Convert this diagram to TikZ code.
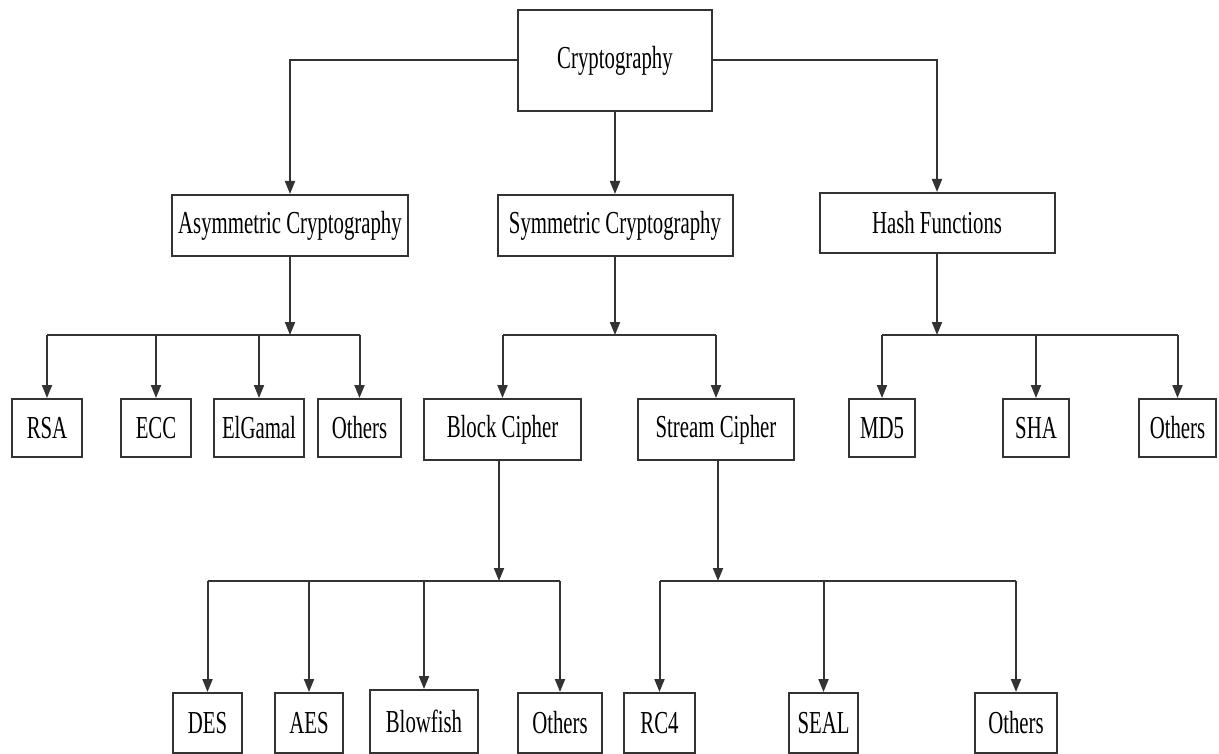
\documentclass[tikz,border=0pt]{standalone}
\usepackage{fontspec}
\setmainfont[FakeStretch=0.65]{Liberation Serif}
\usetikzlibrary{arrows.meta, calc, positioning}
\definecolor{linegray}{HTML}{333333}
\tikzset{
    module/.style={
           rectangle,
           draw=linegray, line width=2pt,
           minimum height=61pt,
           inner sep=2pt,
           text centered,
           font=\fontsize{32}{38}\selectfont,
           },
    leaf/.style={
           module,
           minimum height=58pt,
           },
}

\begin{document}
\begin{tikzpicture}[->, >={Triangle[length=13pt,width=10pt]},
                    x=1pt, y=-1pt, line width=2pt, draw=linegray]

 \useasboundingbox (0,0) rectangle (1219,754);

 % top
 \node[module,
  minimum width=194pt,
  minimum height=101pt] (ROOT) at (615,60.5)
 {%
  Cryptography
 };

 % second level
 \node[module,
  minimum width=236pt] (ASYM) at (290,225.5)
 {%
  Asymmetric Cryptography
 };

 \node[module,
  minimum width=235pt] (SYM) at (615,225.5)
 {%
  Symmetric Cryptography
 };

 \node[module,
  minimum width=235pt,
  minimum height=60pt] (HASH) at (937,223)
 {%
  Hash Functions
 };

 % third level
 \node[leaf, minimum width=70pt] (RSA) at (47,428)
 {%
  RSA
 };

 \node[leaf, minimum width=70pt] (ECC) at (156,428)
 {%
  ECC
 };

 \node[leaf, minimum width=90pt] (ELGAMAL) at (259,428)
 {%
  ElGamal
 };

 \node[leaf, minimum width=83pt] (OTHERS_A) at (359.5,428)
 {%
  Others
 };

 \node[module, minimum width=157pt] (BLOCK) at (502.5,429.5)
 {%
  Block Cipher
 };

 \node[module, minimum width=156pt] (STREAM) at (716,429.5)
 {%
  Stream Cipher
 };

 \node[leaf, minimum width=66pt] (MD5) at (882,428)
 {%
  MD5
 };

 \node[leaf, minimum width=66pt] (SHA) at (1036,428)
 {%
  SHA
 };

 \node[leaf, minimum width=77pt] (OTHERS_H) at (1177.5,428)
 {%
  Others
 };

 % bottom level
 \node[leaf, minimum width=69pt, minimum height=60pt] (DES) at (207.5,723)
 {%
  DES
 };

 \node[leaf, minimum width=68pt, minimum height=60pt] (AES) at (309,723)
 {%
  AES
 };

 \node[leaf, minimum width=108pt, minimum height=63pt] (BLOWFISH) at (424,721.5)
 {%
  Blowfish
 };

 \node[leaf, minimum width=84pt, minimum height=60pt] (OTHERS_B) at (560,723)
 {%
  Others
 };

 \node[leaf, minimum width=71pt, minimum height=60pt] (RC4) at (659.5,723)
 {%
  RC4
 };

 \node[leaf, minimum width=69pt, minimum height=60pt] (SEAL) at (823.5,723)
 {%
  SEAL
 };

 \node[leaf, minimum width=82pt, minimum height=60pt] (OTHERS_S) at (1016,723)
 {%
  Others
 };

 % junctions
 \coordinate (ASYM_J) at (290,335);
 \coordinate (SYM_J) at (615,335);
 \coordinate (HASH_J) at (937,335);
 \coordinate (BLOCK_J) at (499,581);
 \coordinate (STREAM_J) at (718,581);

 \draw (ROOT.west) -| (ASYM.north);
 \draw (ROOT.south) -- (SYM.north);
 \draw (ROOT.east) -| (HASH.north);

 \draw (ASYM.south) -- (ASYM_J);
 \draw (SYM.south) -- (SYM_J);
 \draw (HASH.south) -- (HASH_J);
 \draw (BLOCK.south -| BLOCK_J) -- (BLOCK_J);
 \draw (STREAM.south -| STREAM_J) -- (STREAM_J);

 \draw[-] (ASYM_J -| RSA) -- (ASYM_J -| OTHERS_A);
 \draw[-] (SYM_J -| BLOCK) -- (SYM_J -| STREAM);
 \draw[-] (HASH_J -| MD5) -- (HASH_J -| OTHERS_H);
 \draw[-] (BLOCK_J -| DES) -- (BLOCK_J -| OTHERS_B);
 \draw[-] (STREAM_J -| RC4) -- (STREAM_J -| OTHERS_S);

 \foreach \n in {RSA, ECC, ELGAMAL, OTHERS_A}
  \draw (ASYM_J -| \n) -- (\n.north);
 \foreach \n in {BLOCK, STREAM}
  \draw (SYM_J -| \n) -- (\n.north);
 \foreach \n in {MD5, SHA, OTHERS_H}
  \draw (HASH_J -| \n) -- (\n.north);
 \foreach \n in {DES, AES, BLOWFISH, OTHERS_B}
  \draw (BLOCK_J -| \n) -- (\n.north);
 \foreach \n in {RC4, SEAL, OTHERS_S}
  \draw (STREAM_J -| \n) -- (\n.north);

\end{tikzpicture}
\end{document}
